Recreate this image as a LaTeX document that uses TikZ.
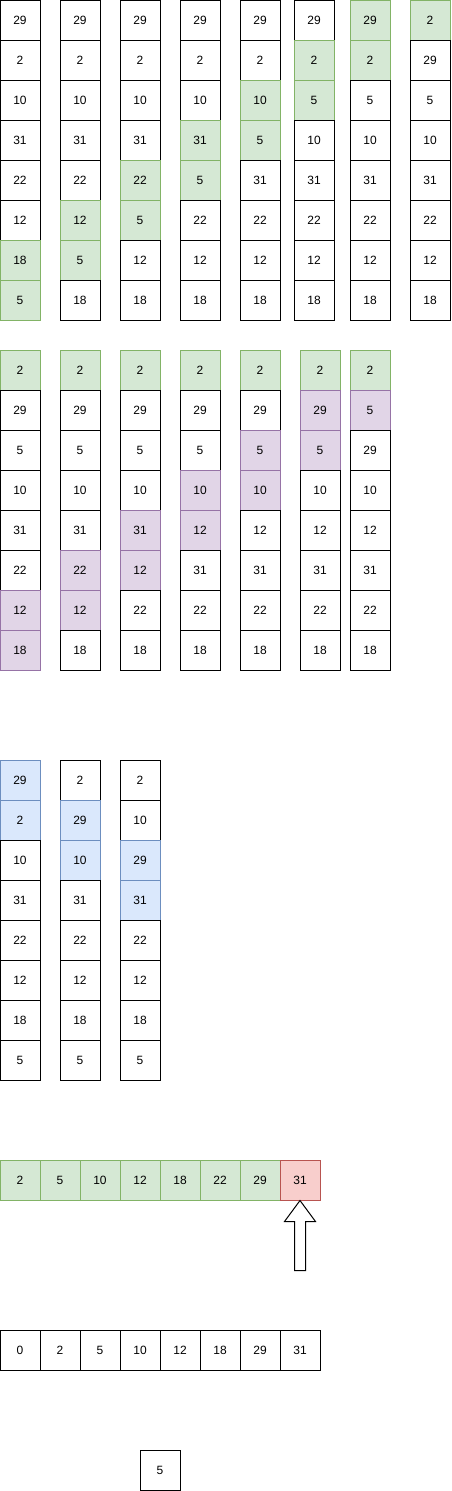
\documentclass[tikz,border=0pt]{standalone}
\usepackage{fontspec}
\setmainfont{Liberation Sans}
\usetikzlibrary{calc}
\definecolor{gfill}{HTML}{D5E8D4}\definecolor{gline}{HTML}{82B366}
\definecolor{pfill}{HTML}{E1D5E7}\definecolor{pline}{HTML}{9673A6}
\definecolor{bfill}{HTML}{DAE8FC}\definecolor{bline}{HTML}{6C8EBF}
\definecolor{rfill}{HTML}{F8CECC}\definecolor{rline}{HTML}{B85450}
\tikzset{
  cell/.style={draw=black, fill=white, line width=1pt, minimum width=40pt, minimum height=40pt,
    inner sep=0pt, font=\fontsize{12}{14}\selectfont, text height=8.6pt, text depth=0pt},
  cellw/.style={cell},
  cellg/.style={cell, draw=gline, fill=gfill},
  cellp/.style={cell, draw=pline, fill=pfill},
  cellb/.style={cell, draw=bline, fill=bfill},
  cellr/.style={cell, draw=rline, fill=rfill},
  blockarrow/.style={draw=black, fill=white, line width=1pt},
}
\newcommand\mycolumn[4]{\foreach \v/\s [count=\i] in {#4} {\node[cell\s] (#1-\i) at ({#2+20},{#3+20+40*(\i-1)}) {\v};}}
\newcommand\myrow[4]{\foreach \v/\s [count=\i] in {#4} {\node[cell\s] (#1-\i) at ({#2+20+40*(\i-1)},{#3+20}) {\v};}}
\begin{document}
\begin{tikzpicture}[x=1pt,y=-1pt]
\useasboundingbox (0,0) rectangle (452,1491);
% group 1
\mycolumn{a1}{0}{0}{29/w,2/w,10/w,31/w,22/w,12/w,18/g,5/g}
\mycolumn{a2}{60}{0}{29/w,2/w,10/w,31/w,22/w,12/g,5/g,18/w}
\mycolumn{a3}{120}{0}{29/w,2/w,10/w,31/w,22/g,5/g,12/w,18/w}
\mycolumn{a4}{180}{0}{29/w,2/w,10/w,31/g,5/g,22/w,12/w,18/w}
\mycolumn{a5}{240}{0}{29/w,2/w,10/g,5/g,31/w,22/w,12/w,18/w}
\mycolumn{a6}{294}{0}{29/w,2/g,5/g,10/w,31/w,22/w,12/w,18/w}
\mycolumn{a7}{350}{0}{29/g,2/g,5/w,10/w,31/w,22/w,12/w,18/w}
\mycolumn{a8}{410}{0}{2/g,29/w,5/w,10/w,31/w,22/w,12/w,18/w}
% group 2
\mycolumn{b1}{0}{350}{2/g,29/w,5/w,10/w,31/w,22/w,12/p,18/p}
\mycolumn{b2}{60}{350}{2/g,29/w,5/w,10/w,31/w,22/p,12/p,18/w}
\mycolumn{b3}{120}{350}{2/g,29/w,5/w,10/w,31/p,12/p,22/w,18/w}
\mycolumn{b4}{180}{350}{2/g,29/w,5/w,10/p,12/p,31/w,22/w,18/w}
\mycolumn{b5}{240}{350}{2/g,29/w,5/p,10/p,12/w,31/w,22/w,18/w}
\mycolumn{b6}{300}{350}{2/g,29/p,5/p,10/w,12/w,31/w,22/w,18/w}
\mycolumn{b7}{350}{350}{2/g,5/p,29/w,10/w,12/w,31/w,22/w,18/w}
% group 3
\mycolumn{c1}{0}{760}{29/b,2/b,10/w,31/w,22/w,12/w,18/w,5/w}
\mycolumn{c2}{60}{760}{2/w,29/b,10/b,31/w,22/w,12/w,18/w,5/w}
\mycolumn{c3}{120}{760}{2/w,10/w,29/b,31/b,22/w,12/w,18/w,5/w}
% rows
\myrow{r}{0}{1160}{2/g,5/g,10/g,12/g,18/g,22/g,29/g,31/r}
\myrow{s}{0}{1330}{0/w,2/w,5/w,10/w,12/w,18/w,29/w,31/w}
\node[cellw] (single) at (160,1470) {5};
% block arrow
\draw[blockarrow] (r-8.south) -- ($(r-8.south)+(15.5,21)$) -- ($(r-8.south)+(5.5,21)$)
  -- ($(r-8.south)+(5.5,70)$) -- ($(r-8.south)+(-5.5,70)$) -- ($(r-8.south)+(-5.5,21)$)
  -- ($(r-8.south)+(-15.5,21)$) -- cycle;
\end{tikzpicture}
\end{document}
